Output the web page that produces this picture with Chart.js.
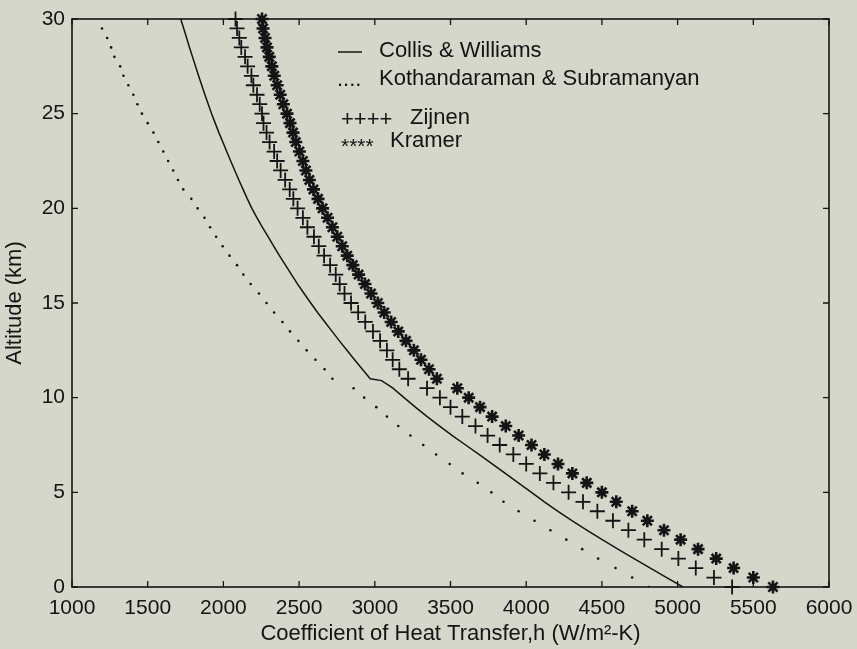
<!DOCTYPE html>
<html>
<head>
<meta charset="utf-8">
<script src="https://cdn.jsdelivr.net/npm/chart.js@4.4.0/dist/chart.umd.min.js"></script>
<style>
  html, body { margin: 0; padding: 0; background: #d5d7ca; }
  #wrap { width: 857px; height: 649px; }
</style>
</head>
<body>
<div id="wrap"><canvas id="heatChart" width="857" height="649"></canvas></div>
<script>
// altitude grid (km) shared by the marker series
const altitudes = [
  0, 0.5, 1, 1.5, 2, 2.5, 3, 3.5, 4, 4.5,
  5, 5.5, 6, 6.5, 7, 7.5, 8, 8.5, 9, 9.5,
  10, 10.5, 11, 11.5, 12, 12.5, 13, 13.5, 14, 14.5,
  15, 15.5, 16, 16.5, 17, 17.5, 18, 18.5, 19, 19.5,
  20, 20.5, 21, 21.5, 22, 22.5, 23, 23.5, 24, 24.5,
  25, 25.5, 26, 26.5, 27, 27.5, 28, 28.5, 29, 29.5,
  30
];

// Collis & Williams curve has an extra point at the tropopause step
const collisAlt = [
  0, 0.5, 1, 1.5, 2, 2.5, 3, 3.5, 4, 4.5,
  5, 5.5, 6, 6.5, 7, 7.5, 8, 8.5, 9, 9.5,
  10, 10.5, 10.9, 11, 11.5, 12, 12.5, 13, 13.5, 14, 14.5,
  15, 15.5, 16, 16.5, 17, 17.5, 18, 18.5, 19, 19.5,
  20, 20.5, 21, 21.5, 22, 22.5, 23, 23.5, 24, 24.5,
  25, 25.5, 26, 26.5, 27, 27.5, 28, 28.5, 29, 29.5,
  30
];

// heat transfer coefficient h (W/m^2-K)
const collisH = [
  5035, 4928, 4820, 4712, 4606, 4502, 4400, 4302, 4210, 4120,
  4035, 3948, 3862, 3775, 3688, 3600, 3512, 3428, 3346, 3268,
  3193, 3120, 3045, 2970, 2918, 2866, 2816, 2766, 2718, 2670, 2622,
  2577, 2533, 2490, 2450, 2410, 2370, 2332, 2295, 2258, 2222,
  2188, 2158, 2130, 2102, 2075, 2048, 2022, 1996, 1970, 1946,
  1922, 1900, 1878, 1857, 1836, 1816, 1796, 1776, 1757, 1738,
  1718
];

// dotted series, read from 0 to 29.5 km
const kothH = [
  4810, 4700, 4590, 4475, 4370, 4265, 4160, 4055, 3950, 3850,
  3770, 3680, 3580, 3495, 3405, 3320, 3235, 3155, 3080, 3010,
  2930, 2860, 2720, 2668, 2608, 2550, 2495, 2440, 2390, 2335,
  2285, 2235, 2180, 2132, 2090, 2040, 1995, 1952, 1912, 1875,
  1830, 1788, 1735, 1700, 1668, 1635, 1603, 1570, 1538, 1500,
  1462, 1432, 1405, 1372, 1340, 1318, 1280, 1258, 1232, 1198
];

const zijnenH = [
  5360, 5240, 5120, 5005, 4895, 4780, 4675, 4573, 4470, 4375,
  4280, 4180, 4090, 4000, 3915, 3825, 3745, 3665, 3578, 3500,
  3430, 3345, 3220, 3162, 3118, 3080, 3035, 2988, 2937, 2890,
  2843, 2800, 2768, 2742, 2705, 2665, 2630, 2598, 2555, 2525,
  2490, 2462, 2438, 2408, 2378, 2355, 2335, 2305, 2285, 2265,
  2255, 2240, 2222, 2198, 2185, 2160, 2143, 2118, 2105, 2090,
  2080
];

const kramerH = [
  5630, 5500, 5370, 5255, 5135, 5020, 4910, 4800, 4700, 4595,
  4500, 4400, 4305, 4210, 4120, 4035, 3950, 3865, 3775, 3695,
  3620, 3545, 3410, 3358, 3305, 3258, 3206, 3155, 3108, 3062,
  3020, 2975, 2935, 2893, 2855, 2818, 2785, 2752, 2720, 2688,
  2655, 2625, 2595, 2568, 2545, 2525, 2502, 2478, 2460, 2440,
  2420, 2396, 2375, 2355, 2336, 2320, 2303, 2288, 2275, 2262,
  2255
];

const seriesNames = ['Collis & Williams', 'Kothandaraman & Subramanyan', 'Zijnen', 'Kramer'];

const ink = '#141414';
const fontFamily = '"Liberation Sans", Arial, Helvetica, sans-serif';

function toPoints(hs, alts) {
  return hs.map((h, i) => ({ x: h, y: alts[i] }));
}

// box around the axes with inward tick marks on all four sides
const frameTicks = {
  id: 'frameTicks',
  afterDraw(chart) {
    const { ctx, chartArea: a, scales } = chart;
    const len = 6;
    ctx.save();
    ctx.strokeStyle = ink;
    ctx.lineWidth = 1.6;
    ctx.strokeRect(a.left, a.top, a.right - a.left, a.bottom - a.top);
    ctx.lineWidth = 1.3;
    ctx.beginPath();
    scales.x.ticks.forEach(t => {
      const px = scales.x.getPixelForValue(t.value);
      ctx.moveTo(px, a.bottom); ctx.lineTo(px, a.bottom - len);
      ctx.moveTo(px, a.top); ctx.lineTo(px, a.top + len);
    });
    scales.y.ticks.forEach(t => {
      const py = scales.y.getPixelForValue(t.value);
      ctx.moveTo(a.left, py); ctx.lineTo(a.left + len, py);
      ctx.moveTo(a.right, py); ctx.lineTo(a.right - len, py);
    });
    ctx.stroke();
    ctx.restore();
  }
};

// text legend placed inside the axes
const textLegend = {
  id: 'textLegend',
  afterDraw(chart) {
    const { ctx } = chart;
    const names = chart.data.datasets.map(d => d.label);
    ctx.save();
    ctx.fillStyle = ink;
    ctx.strokeStyle = ink;
    ctx.font = '22px ' + fontFamily;
    ctx.textBaseline = 'middle';
    ctx.fillText(names[0], 379, 51);
    ctx.fillText(names[1], 379, 79);
    ctx.fillText(names[2], 410, 118);
    ctx.fillText(names[3], 390, 141);

    ctx.lineWidth = 1.5;
    ctx.beginPath();
    ctx.moveTo(338, 52); ctx.lineTo(362, 52);
    ctx.stroke();

    ctx.textBaseline = 'alphabetic';
    ctx.fillText('....', 337, 86);
    ctx.font = '22px ' + fontFamily;
    ctx.fillText('++++', 341, 126);
    ctx.font = '21px ' + fontFamily;
    ctx.fillText('****', 341, 153);
    ctx.restore();
  }
};

const tickFont = { family: fontFamily, size: 21 };
const titleFont = { family: fontFamily, size: 22 };
const plainTick = v => String(v);

new Chart(document.getElementById('heatChart').getContext('2d'), {
  type: 'scatter',
  data: {
    datasets: [
      {
        label: seriesNames[0],
        data: toPoints(collisH, collisAlt),
        showLine: true,
        borderColor: ink,
        borderWidth: 1.5,
        pointRadius: 0,
        tension: 0
      },
      {
        label: seriesNames[1],
        data: toPoints(kothH, altitudes),
        showLine: false,
        pointStyle: 'circle',
        pointRadius: 1.3,
        pointBorderWidth: 0,
        backgroundColor: ink,
        borderColor: ink
      },
      {
        label: seriesNames[2],
        data: toPoints(zijnenH, altitudes),
        showLine: false,
        pointStyle: 'cross',
        pointRadius: 7.5,
        pointBorderWidth: 1.8,
        borderColor: ink,
        backgroundColor: ink,
        clip: false
      },
      {
        label: seriesNames[3],
        data: toPoints(kramerH, altitudes),
        showLine: false,
        pointStyle: 'star',
        pointRadius: 6.5,
        pointBorderWidth: 2.6,
        borderColor: ink,
        backgroundColor: ink,
        clip: false
      }
    ]
  },
  options: {
    responsive: false,
    animation: false,
    layout: { padding: { top: 19, right: 28, bottom: 0, left: 0 } },
    plugins: {
      legend: { display: false },
      tooltip: { enabled: false }
    },
    scales: {
      x: {
        type: 'linear',
        min: 1000,
        max: 6000,
        ticks: { stepSize: 500, color: ink, font: tickFont, padding: 9, maxRotation: 0, autoSkip: false, callback: plainTick },
        grid: { display: false, drawTicks: false },
        border: { display: false },
        title: {
          display: true,
          text: 'Coefficient of Heat Transfer,h (W/m\u00b2-K)',
          color: ink,
          font: titleFont,
          padding: { top: 0, bottom: 2 }
        },
        afterFit(scale) {
          scale.height = 62;
          // the outer labels may hang over the ends of the axis
          scale.paddingLeft = 0;
          scale.paddingRight = 0;
        }
      },
      y: {
        type: 'linear',
        min: 0,
        max: 30,
        ticks: { stepSize: 5, color: ink, font: tickFont, padding: 7, autoSkip: false, callback: plainTick },
        grid: { display: false, drawTicks: false },
        border: { display: false },
        title: {
          display: true,
          text: 'Altitude (km)',
          color: ink,
          font: titleFont,
          padding: { top: 2, bottom: 0 }
        },
        afterFit(scale) {
          scale.width = 72;
          scale.paddingTop = 0;
          scale.paddingBottom = 0;
        }
      }
    }
  },
  plugins: [frameTicks, textLegend]
});
</script>
</body>
</html>
